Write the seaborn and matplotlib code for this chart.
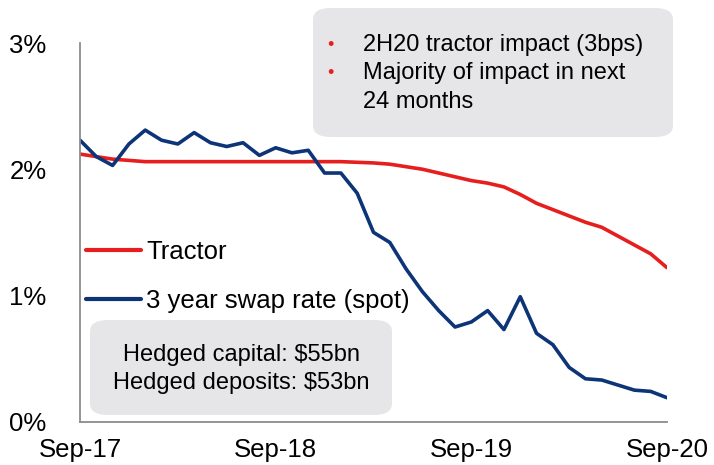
import matplotlib
matplotlib.use("Agg")
import matplotlib.pyplot as plt
from matplotlib.patches import FancyBboxPatch
import pandas as pd
import seaborn as sns

# monthly points, Sep-17 .. Sep-20 (values in %)
months = pd.date_range("2017-09-01", "2020-09-01", freq="MS")
tractor = [2.12, 2.10, 2.08, 2.07, 2.06, 2.06, 2.06, 2.06, 2.06, 2.06, 2.06, 2.06,
           2.06, 2.06, 2.06, 2.06, 2.06, 2.055, 2.05, 2.04, 2.02, 2.00, 1.97, 1.94,
           1.91, 1.89, 1.86, 1.80, 1.73, 1.68, 1.63, 1.58, 1.54, 1.47, 1.40, 1.33, 1.22]
swap = [2.23, 2.10, 2.03, 2.20, 2.31, 2.23, 2.20, 2.29, 2.21, 2.18, 2.21, 2.11,
        2.17, 2.13, 2.15, 1.97, 1.97, 1.81, 1.50, 1.42, 1.21, 1.03, 0.88, 0.75,
        0.79, 0.88, 0.73, 0.99, 0.70, 0.61, 0.43, 0.34, 0.33, 0.29, 0.25, 0.24, 0.19]
series_names = ["Tractor", "3 year swap rate (spot)"]
x_ticks = ["Sep-17", "Sep-18", "Sep-19", "Sep-20"]
y_ticks = ["0%", "1%", "2%", "3%"]
top_lines = ["2H20 tractor impact (3bps)", "Majority of impact in next", "24 months"]
bottom_lines = ["Hedged capital: $55bn", "Hedged deposits: $53bn"]

sns.set_theme(style="white")
plt.rcParams["font.family"] = ["Liberation Sans", "DejaVu Sans"]
plt.rcParams["text.color"] = "black"

df = pd.DataFrame({"month": range(len(months)), "Tractor": tractor,
                   "3 year swap rate (spot)": swap})
df_long = df.melt(id_vars="month", var_name="series", value_name="rate")

W, H = 714, 465
fig = plt.figure(figsize=(W / 100, H / 100), dpi=100)
ax = fig.add_axes([80 / W, 1 - 421.7 / H, (667 - 80) / W, (421.7 - 43) / H])

sns.lineplot(data=df_long, x="month", y="rate", hue="series", hue_order=series_names,
             palette=["#E61E1E", "#0C3476"], linewidth=2.6, ax=ax, legend=True)

ax.set_xlim(0, 36)
ax.set_ylim(0, 3)
ax.set_xticks([0, 12, 24, 36])
ax.set_xticklabels(x_ticks)
ax.set_yticks([0, 1, 2, 3])
ax.set_yticklabels(y_ticks)
ax.tick_params(axis="both", length=0, labelsize=18.5, colors="black")
ax.tick_params(axis="x", pad=12)
ax.tick_params(axis="y", pad=24)
ax.set_xlabel("")
ax.set_ylabel("")
for side in ["top", "right"]:
    ax.spines[side].set_visible(False)
for side in ["left", "bottom"]:
    ax.spines[side].set_color("#8C8C8C")
    ax.spines[side].set_linewidth(1.3)

leg = ax.legend(loc="upper left", bbox_to_anchor=(86 / W, 1 - 240 / H),
                bbox_transform=fig.transFigure, frameon=False, fontsize=18.5,
                handlelength=2.15, handletextpad=0.2, labelspacing=0.98,
                borderpad=0, borderaxespad=0)
for line in leg.get_lines():
    line.set_linewidth(3)
for t in leg.get_texts():
    t.set_color("black")


def px_box(x0, y0, x1, y1):
    return FancyBboxPatch((x0 / W, 1 - y1 / H), (x1 - x0) / W, (y1 - y0) / H,
                          boxstyle="round,pad=0,rounding_size=0.025",
                          transform=fig.transFigure, facecolor="#E6E5E8",
                          edgecolor="none", zorder=0.5)


fig.add_artist(px_box(313, 8, 673, 137))
fig.add_artist(px_box(90, 320, 392, 415))

# notes in the top box, one text per line
for txt, ty in zip(top_lines, [45, 73.5, 102]):
    fig.text(363 / W, 1 - ty / H, txt, fontsize=17, va="center", ha="left",
             color="black")
for by in [45, 73.5]:
    fig.text(330 / W, 1 - by / H, "•", fontsize=13, color="#E61E1E",
             va="center", ha="center")

for txt, ty in zip(bottom_lines, [355, 383]):
    fig.text(241 / W, 1 - ty / H, txt, fontsize=17, va="center", ha="center",
             color="black")

fig.savefig("out.png", dpi=100)
